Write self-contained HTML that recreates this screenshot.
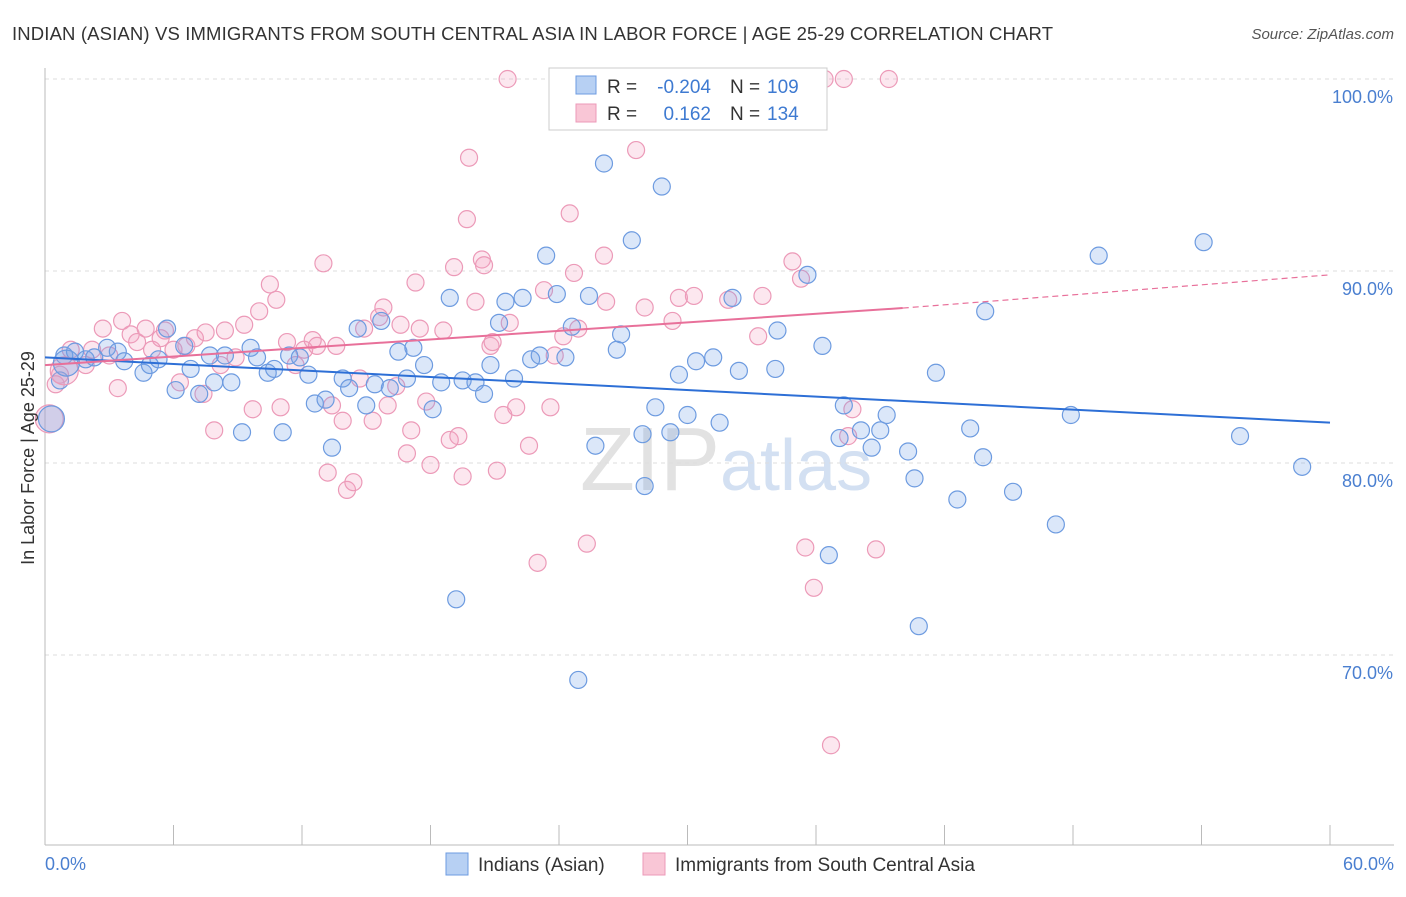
<!DOCTYPE html>
<html><head><meta charset="utf-8"><style>
body{margin:0;background:#fff;font-family:"Liberation Sans",sans-serif;}
svg text{font-family:"Liberation Sans",sans-serif;}
</style></head><body>
<svg id="chart" width="1406" height="892">
<text x="12" y="40" font-size="18.5" fill="#333" textLength="1041">INDIAN (ASIAN) VS IMMIGRANTS FROM SOUTH CENTRAL ASIA IN LABOR FORCE | AGE 25-29 CORRELATION CHART</text>
<text x="1394" y="39" font-size="15" fill="#555" font-style="italic" text-anchor="end">Source: ZipAtlas.com</text>
<text x="720" y="490" font-size="90" fill="#e2e2e2" text-anchor="end" font-family="Liberation Serif">ZIP</text>
<text x="720" y="490" font-size="72" fill="#d3e0f2">atlas</text>
<g id="grid"></g><g id="axes"></g><g id="pts"></g><g id="lines"></g>
<text transform="translate(34,458) rotate(-90)" font-size="18" fill="#333" text-anchor="middle">In Labor Force | Age 25-29</text>
<text x="45" y="870" font-size="18" fill="#4a7fd0">0.0%</text>
<text x="1394" y="870" font-size="18" fill="#4a7fd0" text-anchor="end">60.0%</text>
<g>
<rect x="549" y="68" width="278" height="62" fill="#fff" stroke="#ccc"/>
<rect x="576" y="76" width="20" height="18" fill="#b7d0f3" stroke="#6d9be0"/>
<rect x="576" y="104" width="20" height="18" fill="#f9c6d6" stroke="#ec9ab8"/>
<text x="607" y="93" font-size="19" fill="#333">R =</text><text x="711" y="93" font-size="19" fill="#3e7ad1" text-anchor="end">-0.204</text>
<text x="730" y="93" font-size="19" fill="#333">N =</text><text x="767" y="93" font-size="19" fill="#3e7ad1">109</text>
<text x="607" y="120" font-size="19" fill="#333">R =</text><text x="711" y="120" font-size="19" fill="#3e7ad1" text-anchor="end">0.162</text>
<text x="730" y="120" font-size="19" fill="#333">N =</text><text x="767" y="120" font-size="19" fill="#3e7ad1">134</text>
</g>
<g>
<rect x="446" y="853" width="22" height="22" fill="#b7d0f3" stroke="#6d9be0"/>
<text x="478" y="871" font-size="19" fill="#333">Indians (Asian)</text>
<rect x="643" y="853" width="22" height="22" fill="#f9c6d6" stroke="#ec9ab8"/>
<text x="675" y="871" font-size="19" fill="#333">Immigrants from South Central Asia</text>
</g>
</svg>
<script>
const yTicks=[100,90,80,70];
const blueX=[0.7,0.9,1.4,1.9,2.3,2.9,3.4,3.7,4.6,4.9,5.3,5.7,6.1,6.5,6.8,7.2,7.7,7.9,8.4,8.7,9.2,9.6,9.9,10.4,10.7,11.1,11.4,11.9,12.3,12.6,13.1,13.4,13.9,14.2,14.6,15.0,15.4,15.7,16.1,16.5,16.9,17.2,17.7,18.1,18.5,18.9,19.2,19.5,20.1,20.5,20.8,21.2,21.5,21.9,22.3,22.7,23.1,23.4,23.9,24.3,24.6,24.9,25.4,25.7,26.1,26.7,26.9,27.4,27.9,28.0,28.5,28.8,29.2,29.6,30.0,30.4,31.2,31.5,32.4,32.1,34.1,34.2,35.6,36.3,36.6,37.3,37.1,38.1,38.6,39.0,39.3,40.3,40.6,40.8,41.6,42.6,43.2,43.8,43.9,45.2,47.2,47.9,49.2,54.1,55.8,58.7];
const blueY=[84.3,85.6,85.8,85.4,85.5,86.0,85.8,85.3,84.7,85.1,85.4,87.0,83.8,86.1,84.9,83.6,85.6,84.2,85.6,84.2,81.6,86.0,85.5,84.7,84.9,81.6,85.6,85.5,84.6,83.1,83.3,80.8,84.4,83.9,87.0,83.0,84.1,87.4,83.9,85.8,84.4,86.0,85.1,82.8,84.2,88.6,72.9,84.3,84.2,83.6,85.1,87.3,88.4,84.4,88.6,85.4,85.6,90.8,88.8,85.5,87.1,68.7,88.7,80.9,95.6,85.9,86.7,91.6,81.5,78.8,82.9,94.4,81.6,84.6,82.5,85.3,85.5,82.1,84.8,88.6,84.9,86.9,89.8,86.1,75.2,83.0,81.3,81.7,80.8,81.7,82.5,80.6,79.2,71.5,84.7,78.1,81.8,80.3,87.9,78.5,76.8,82.5,90.8,91.5,81.4,79.8];
const pinkX=[0.5,0.7,1.2,1.9,2.2,2.7,3.0,3.4,3.6,4.0,4.3,4.7,5.0,5.4,5.6,6.0,6.3,6.6,7.0,7.4,7.5,7.9,8.2,8.4,8.9,9.3,9.7,10.0,10.5,10.8,11.0,11.3,11.7,12.1,12.5,12.7,13.0,13.2,13.4,13.6,13.9,14.1,14.4,14.7,14.9,15.3,15.6,15.8,16.0,16.4,16.6,16.9,17.1,17.3,17.5,17.8,18.0,18.6,18.9,19.1,19.3,19.5,19.8,19.7,20.1,20.4,20.5,20.8,20.9,21.1,21.4,21.6,21.7,22.0,22.6,23.0,23.3,23.6,23.8,24.2,24.5,24.7,24.9,25.3,26.1,26.2,27.6,28.0,29.3,29.6,30.3,31.9,33.3,33.5,34.9,35.3,35.5,35.9,36.4,36.7,37.3,37.5,37.7,38.8,39.4];
const pinkY=[84.1,84.6,85.9,85.1,85.9,87.0,85.6,83.9,87.4,86.7,86.3,87.0,85.9,86.5,86.9,85.9,84.2,86.1,86.5,83.6,86.8,81.7,85.1,86.9,85.5,87.2,82.8,87.9,89.3,88.5,82.9,86.3,85.1,85.9,86.4,86.1,90.4,79.5,83.0,86.1,82.2,78.6,79.0,84.4,87.0,82.2,87.6,88.1,83.0,84.0,87.2,80.5,81.7,89.4,87.0,83.2,79.9,86.9,81.2,90.2,81.4,79.3,95.9,92.7,88.4,90.6,90.3,86.1,86.3,79.6,82.5,100,87.3,82.9,80.9,74.8,89.0,82.9,85.6,86.6,93.0,89.9,87.0,75.8,90.8,88.4,96.3,88.1,87.4,88.6,88.7,88.5,86.6,88.7,90.5,89.6,75.6,73.5,100,65.3,100,81.4,82.8,75.5,100];
const blueBig=[[0.3,82.3],[1.0,85.2]];
const pinkBig=[[0.2,82.3],[0.9,84.8]];
const blueLine=[85.5,82.1];
const pinkLine=[85.1,88.07,89.8];
const NS="http://www.w3.org/2000/svg";
const X=v=>45+v/60*1285, Y=v=>79+(100-v)*19.2;
function mk(t,a,p){const e=document.createElementNS(NS,t);for(const k in a)e.setAttribute(k,a[k]);p.appendChild(e);return e;}
const grid=document.getElementById('grid');
yTicks.forEach(t=>{
 const l=mk('line',{x1:45,x2:1394,y1:Y(t),y2:Y(t),stroke:'#ddd','stroke-dasharray':'4,4'},grid);
 
 
 const tx=mk('text',{x:1393,y:Y(t)+24,'font-size':18,fill:'#4a7fd0','text-anchor':'end'},grid);
 tx.textContent=t.toFixed(1)+'%';
 
 
});
const axes=document.getElementById('axes');
const ax=mk('line',{x1:45,x2:1394,y1:845,y2:845,stroke:'#bbb'},axes);


const ay=mk('line',{x1:45,x2:45,y1:68,y2:845,stroke:'#bbb'},axes);


for(let i=0;i<=10;i++){const t=mk('line',{x1:X(i*6),x2:X(i*6),y1:825,y2:845,stroke:'#bbb'},axes);
 
 }
const pts=document.getElementById('pts');
function dot(x,y,r,fill,stroke,name){const c=mk('circle',{cx:X(x),cy:Y(y),r:r,fill:fill,stroke:stroke,'stroke-width':1.2},pts);
 
 }
pinkX.forEach((x,i)=>dot(x,pinkY[i],8.5,'rgba(244,160,190,0.25)','#ec9ab8','pink-point'));
blueX.forEach((x,i)=>dot(x,blueY[i],8.5,'rgba(110,160,230,0.25)','#6d9be0','blue-point'));
pinkBig.forEach(p=>dot(p[0],p[1],14,'rgba(244,160,190,0.3)','#ec9ab8','pink-point-large'));
blueBig.forEach(p=>dot(p[0],p[1],13,'rgba(110,160,230,0.3)','#6d9be0','blue-point-large'));
const lines=document.getElementById('lines');
const bl=mk('line',{x1:X(0),y1:Y(blueLine[0]),x2:X(60),y2:Y(blueLine[1]),stroke:'#2d6fd6','stroke-width':2},lines);


const pl=mk('line',{x1:X(0),y1:Y(pinkLine[0]),x2:X(40.05),y2:Y(pinkLine[1]),stroke:'#e8709a','stroke-width':2},lines);


const pd=mk('line',{x1:X(40.05),y1:Y(pinkLine[1]),x2:X(60),y2:Y(pinkLine[2]),stroke:'#e8709a','stroke-width':1.2,'stroke-dasharray':'6,4'},lines);


</script>
</body></html>
